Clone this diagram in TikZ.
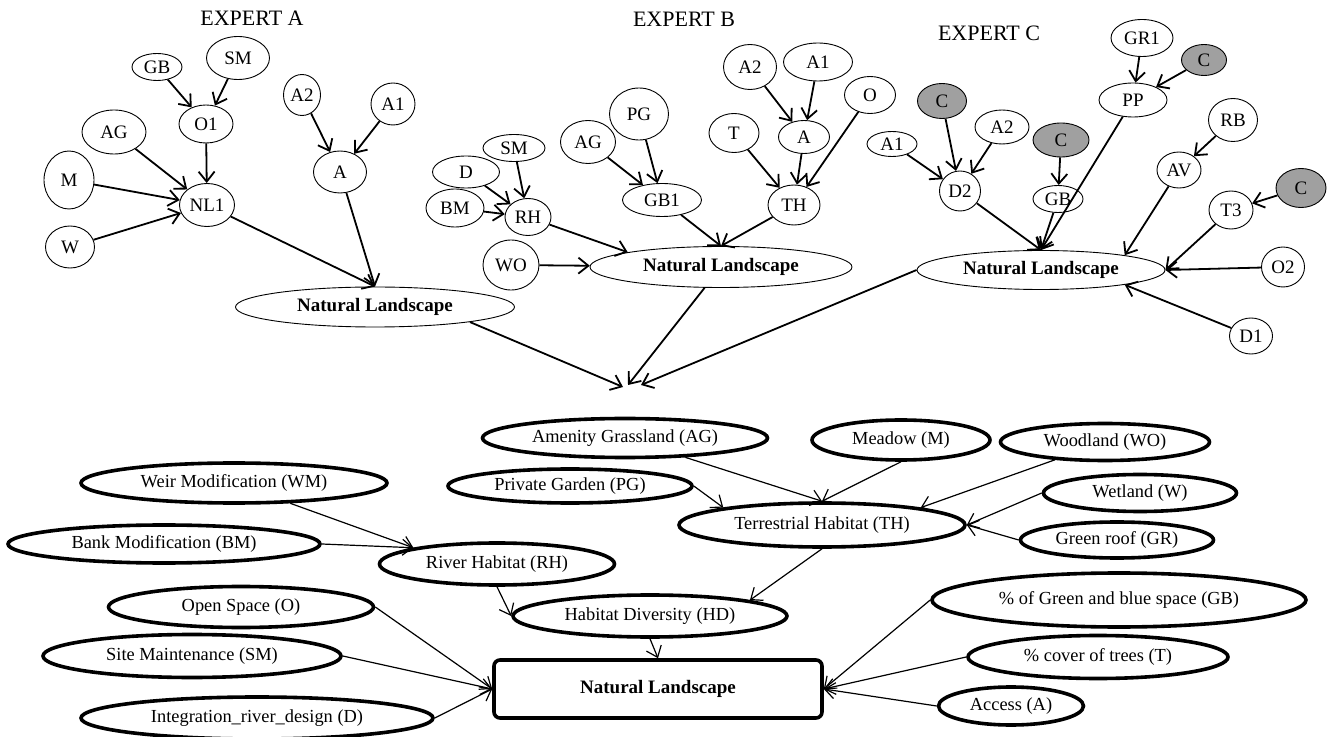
\documentclass[tikz,border=0pt]{standalone}
\usepackage{fontspec}
\setmainfont{Liberation Serif}
\usetikzlibrary{shapes.geometric,arrows.meta}

\definecolor{cgrey}{RGB}{160,160,160}

\tikzset{
  sz/.style 2 args={minimum width=#1*0.5pt, minimum height=#2*0.5pt},
  var/.style={ellipse, draw, line width=0.45pt, inner sep=0pt, font=\fontsize{9.5}{11}\selectfont},
  cvar/.style={var, fill=cgrey},
  goal/.style={var, font=\fontsize{9.5}{11}\selectfont\bfseries},
  bvar/.style={ellipse, draw, line width=1.8pt, inner sep=0pt, font=\fontsize{9.2}{11}\selectfont},
  title/.style={font=\fontsize{11}{13}\selectfont},
  link/.style={-{Straight Barb[length=5pt,width=8pt]}, line width=0.9pt},
  blink/.style={-{Straight Barb[length=5pt,width=8pt]}, line width=0.6pt}
}

\begin{document}
\begin{tikzpicture}[x=0.5pt, y=-0.5pt]
  \useasboundingbox (0,0) rectangle (1328,737);

  % expert A
  \node[title] (ta) at (252,18) {EXPERT A};
  \node[var, sz={50}{27}] (gbA) at (157,67) {GB};
  \node[var, sz={63}{43}] (smA) at (238,58) {SM};
  \node[var, sz={54}{38}] (o1A) at (206,124) {O1};
  \node[var, sz={64}{44}] (agA) at (114,132) {AG};
  \node[var, sz={50}{58}] (mA) at (69,180) {M};
  \node[var, sz={55}{43}] (nl1A) at (207,205) {NL1};
  \node[var, sz={49}{42}] (wA) at (70,247) {W};
  \node[var, sz={37}{41}] (a2A) at (302,95) {A2};
  \node[var, sz={44}{42}] (a1A) at (393,104) {A1};
  \node[var, sz={53}{42}] (aA) at (340,172) {A};
  \node[goal, sz={279}{40}] (nlA) at (375,307) {Natural Landscape};
  \path[link] (gbA) edge (o1A)
              (smA) edge (o1A)
              (agA) edge (nl1A)
              (mA) edge (nl1A)
              (wA) edge (nl1A)
              (o1A) edge (nl1A)
              (a2A) edge (aA)
              (a1A) edge (aA)
              (nl1A) edge (nlA.north)
              (aA) edge (nlA.north);

  % expert B
  \node[title] (tb) at (684,19) {EXPERT B};
  \node[var, sz={53}{45}] (a2B) at (750,67) {A2};
  \node[var, sz={69}{38}] (a1B) at (818,62) {A1};
  \node[var, sz={51}{37}] (oB) at (870,95) {O};
  \node[var, sz={50}{39}] (tB) at (734,133) {T};
  \node[var, sz={51}{33}] (aB) at (804,137) {A};
  \node[var, sz={52}{40}] (thB) at (794,205) {TH};
  \node[var, sz={59}{52}] (pgB) at (639,114) {PG};
  \node[var, sz={55}{43}] (agB) at (588,142) {AG};
  \node[var, sz={79}{33}] (gb1B) at (662,200) {GB1};
  \node[var, sz={62}{27}] (smB) at (514,148) {SM};
  \node[var, sz={67}{32}] (dB) at (466,172) {D};
  \node[var, sz={58}{38}] (bmB) at (455,208) {BM};
  \node[var, sz={46}{37}] (rhB) at (528,217) {RH};
  \node[var, sz={56}{50}] (woB) at (511,265) {WO};
  \node[goal, sz={262}{41}] (nlB) at (721,267) {Natural Landscape};
  \path[link] (a2B) edge (aB)
              (a1B) edge (aB)
              (aB) edge (thB)
              (tB) edge (thB)
              (oB) edge (thB)
              (agB) edge (gb1B)
              (pgB) edge (gb1B)
              (smB) edge (rhB)
              (dB) edge (rhB)
              (bmB) edge (rhB)
              (rhB) edge (nlB.171)
              (gb1B) edge (nlB.north)
              (thB) edge (nlB.north)
              (woB) edge (nlB);

  % expert C
  \node[title] (tc) at (989,33) {EXPERT C};
  \node[var, sz={62}{37}] (gr1C) at (1142,38) {GR1};
  \node[cvar, sz={45}{31}] (c1C) at (1204,60) {C};
  \node[var, sz={68}{34}] (ppC) at (1133,100) {PP};
  \node[cvar, sz={49}{35}] (c2C) at (942,101) {C};
  \node[var, sz={54}{34}] (a2C) at (1002,127) {A2};
  \node[var, sz={50}{25}] (a1C) at (892,144) {A1};
  \node[cvar, sz={56}{34}] (c3C) at (1061,140) {C};
  \node[var, sz={41}{40}] (d2C) at (960,191) {D2};
  \node[var, sz={50}{27}] (gbC) at (1058,199) {GB};
  \node[var, sz={49}{43}] (rbC) at (1233,120) {RB};
  \node[var, sz={44}{36}] (avC) at (1179,170) {AV};
  \node[cvar, sz={50}{39}] (c4C) at (1301,188) {C};
  \node[var, sz={44}{38}] (t3C) at (1231,210) {T3};
  \node[var, sz={43}{40}] (o2C) at (1283,267) {O2};
  \node[var, sz={43}{36}] (d1C) at (1251,336) {D1};
  \node[goal, sz={248}{39}] (nlC) at (1041,270) {Natural Landscape};
  \path[link] (gr1C) edge (ppC)
              (c1C) edge (ppC)
              (c2C) edge (d2C)
              (a2C) edge (d2C)
              (a1C) edge (d2C)
              (c3C) edge (gbC)
              (d2C) edge (nlC.north)
              (gbC) edge (nlC.north)
              (ppC) edge (nlC.north)
              (rbC) edge (avC)
              (avC) edge (nlC.10)
              (c4C) edge (t3C)
              (t3C) edge (nlC.east)
              (o2C) edge (nlC.east)
              (d1C) edge (nlC.-10);

  % the three experts meet
  \coordinate (mgA) at (623,387);
  \coordinate (mgB) at (628,385);
  \coordinate (mgC) at (641,385);
  \path[link] (nlA.-9) edge (mgA)
              (nlB) edge (mgB)
              (nlC.west) edge (mgC);

  % combined network
  \node[bvar, sz={306}{40}] (wm) at (234,483) {Weir Modification (WM)};
  \node[bvar, sz={312}{38}] (bm) at (164,544) {Bank Modification (BM)};
  \node[bvar, sz={265}{41}] (os) at (241,607) {Open Space (O)};
  \node[bvar, sz={298}{43}] (sm) at (192,656) {Site Maintenance (SM)};
  \node[bvar, sz={352}{42}] (ird) at (257,718) {Integration\_river\_design (D)};
  \node[bvar, sz={285}{39}] (ag) at (625,438) {Amenity Grassland (AG)};
  \node[bvar, sz={244}{34}] (pg) at (570,486) {Private Garden (PG)};
  \node[bvar, sz={178}{40}] (me) at (901,440) {Meadow (M)};
  \node[bvar, sz={209}{37}] (wo) at (1105,442) {Woodland (WO)};
  \node[bvar, sz={193}{37}] (we) at (1140,493) {Wetland (W)};
  \node[bvar, sz={193}{36}] (gr) at (1117,540) {Green roof (GR)};
  \node[bvar, sz={286}{44}] (th) at (822,525) {Terrestrial Habitat (TH)};
  \node[bvar, sz={235}{42}] (rh) at (497,564) {River Habitat (RH)};
  \node[bvar, sz={274}{42}] (hd) at (650,616) {Habitat Diversity (HD)};
  \node[draw, line width=1.8pt, rounded corners=3pt, sz={328}{58},
        font=\fontsize{9.5}{11}\selectfont\bfseries] (nl) at (658,689) {Natural Landscape};
  \node[bvar, sz={374}{54}] (gbs) at (1119,600) {\% of Green and blue space (GB)};
  \node[bvar, sz={260}{43}] (trees) at (1098,657) {\% cover of trees (T)};
  \node[bvar, sz={145}{38}] (acc) at (1011,706) {Access (A)};
  \path[blink] (wm) edge (rh.169)
               (bm.east) edge (rh.169)
               (rh.south) edge (hd.west)
               (ag) edge (th.north)
               (me.south) edge (th.north)
               (wo) edge (th.10)
               (pg.east) edge (th.170)
               (we.west) edge (th.east)
               (gr.west) edge (th.east)
               (th.south) edge (hd.9)
               (hd.south) edge (nl.north)
               (os.east) edge (nl.west)
               (sm.east) edge (nl.west)
               (ird.east) edge (nl.west)
               (gbs.west) edge (nl.east)
               (trees.west) edge (nl.east)
               (acc.west) edge (nl.east);
\end{tikzpicture}
\end{document}
